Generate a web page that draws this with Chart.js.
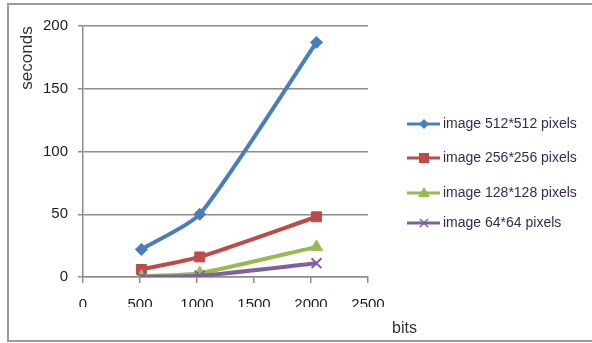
<!DOCTYPE html>
<html>
<head>
<meta charset="utf-8">
<script src="https://cdn.jsdelivr.net/npm/chart.js@4/dist/chart.umd.min.js"></script>
<style>
  html, body { margin: 0; padding: 0; background: #fff; }
  #wrap { position: relative; width: 592px; height: 343px; }
</style>
</head>
<body>
<div id="wrap"><canvas id="chart" width="592" height="343"></canvas></div>
<script>
// data
var bits = [512, 1024, 2048];
var img512 = [22, 50, 187];
var img256 = [6, 16, 48];
var img128 = [0.5, 3, 24];
var img64 = [0, 1, 11];
var seriesNames = ['image 512*512 pixels', 'image 256*256 pixels', 'image 128*128 pixels', 'image 64*64 pixels'];
var xTicks = [0, 500, 1000, 1500, 2000, 2500];
var yTicks = [0, 50, 100, 150, 200];

var colors = ['#4a7ebb', '#be4b48', '#98b954', '#7d60a0'];
var markers = ['rectRot', 'rect', 'triangle', 'crossRot'];
var sizes = [6, 7, 7, 7];
var values = [img512, img256, img128, img64];

function pts(arr) {
  return arr.map(function (v, i) { return { x: bits[i], y: v }; });
}

var datasets = values.map(function (arr, i) {
  return {
    label: seriesNames[i],
    data: pts(arr),
    borderColor: colors[i],
    backgroundColor: colors[i],
    borderWidth: 4,
    pointStyle: markers[i],
    pointRadius: sizes[i],
    pointBorderWidth: i === 3 ? 2 : 1,
    tension: 0.2,
    order: 4 - i
  };
});

var FONT = '"Liberation Sans", sans-serif';

// frame, axis titles and legend
var extras = {
  id: 'extras',
  afterDraw: function (chart) {
    var ctx = chart.ctx;
    ctx.save();
    ctx.strokeStyle = '#9a9a9a';
    ctx.lineWidth = 2;
    ctx.strokeRect(8, 4, 620, 337);

    ctx.fillStyle = '#333';
    ctx.font = '16px ' + FONT;
    ctx.textAlign = 'left';
    ctx.textBaseline = 'alphabetic';
    ctx.fillText('bits', 392, 333);

    ctx.save();
    ctx.translate(32, 58);
    ctx.rotate(-Math.PI / 2);
    ctx.textAlign = 'center';
    ctx.font = '17px ' + FONT;
    ctx.fillText('seconds', 0, 0);
    ctx.restore();

    var rows = [124, 158, 193, 223];
    ctx.font = '14px ' + FONT;
    ctx.textBaseline = 'middle';
    for (var i = 0; i < 4; i++) {
      var y = rows[i];
      ctx.strokeStyle = colors[i];
      ctx.lineWidth = 3;
      ctx.beginPath();
      ctx.moveTo(407, y);
      ctx.lineTo(440, y);
      ctx.stroke();
      var cx = 424;
      ctx.fillStyle = colors[i];
      ctx.beginPath();
      if (i === 0) {
        ctx.moveTo(cx, y - 5); ctx.lineTo(cx + 5, y); ctx.lineTo(cx, y + 5); ctx.lineTo(cx - 5, y);
        ctx.closePath(); ctx.fill();
      } else if (i === 1) {
        ctx.fillRect(cx - 5, y - 5, 10, 10);
      } else if (i === 2) {
        ctx.moveTo(cx, y - 6); ctx.lineTo(cx + 6, y + 4); ctx.lineTo(cx - 6, y + 4);
        ctx.closePath(); ctx.fill();
      } else {
        ctx.lineWidth = 1.5;
        ctx.moveTo(cx - 4, y - 4); ctx.lineTo(cx + 4, y + 4);
        ctx.moveTo(cx + 4, y - 4); ctx.lineTo(cx - 4, y + 4);
        ctx.stroke();
      }
      ctx.fillStyle = '#3a2a4a';
      ctx.fillText(seriesNames[i], 443, y);
    }
    ctx.restore();
  }
};

function plain(v) { return String(v); }

new Chart(document.getElementById('chart'), {
  type: 'line',
  data: { datasets: datasets },
  options: {
    responsive: false,
    animation: false,
    layout: { padding: { left: 39, right: 224, top: 26, bottom: 36 } },
    plugins: { legend: { display: false }, tooltip: { enabled: false } },
    scales: {
      x: {
        type: 'linear',
        min: 0, max: 2500,
        afterBuildTicks: function (s) { s.ticks = xTicks.map(function (v) { return { value: v }; }); },
        afterFit: function (s) { s.height = 30; },
        grid: { drawOnChartArea: false, drawTicks: true, tickLength: 6, color: '#8c8c8c', lineWidth: 1.5 },
        border: { color: '#8c8c8c', width: 1.5 },
        ticks: { color: '#1a1a2a', font: { family: FONT, size: 15 }, padding: 13, maxRotation: 0, callback: plain }
      },
      y: {
        min: 0, max: 200,
        afterBuildTicks: function (s) { s.ticks = yTicks.map(function (v) { return { value: v }; }); },
        afterFit: function (s) { s.width = 44; },
        grid: { color: '#8c8c8c', lineWidth: 1.5, tickLength: 5 },
        border: { color: '#8c8c8c', width: 1.5 },
        ticks: { color: '#1a1a2a', font: { family: FONT, size: 15 }, padding: 10, callback: plain }
      }
    }
  },
  plugins: [extras]
});
</script>
</body>
</html>
